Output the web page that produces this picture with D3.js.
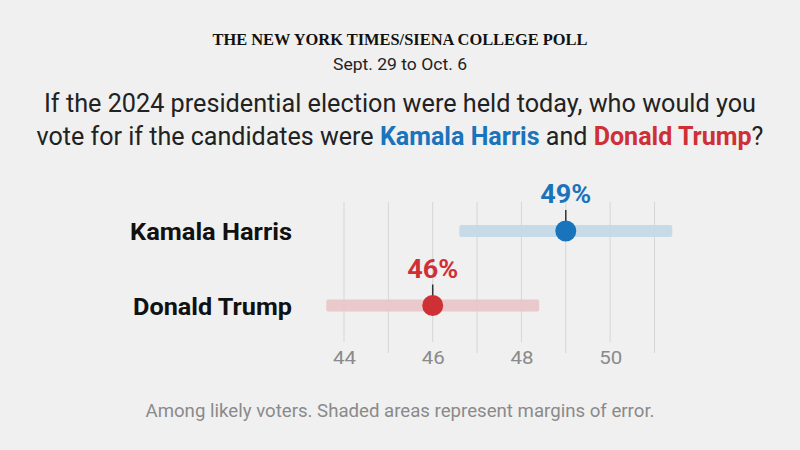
<!DOCTYPE html>
<html><head><meta charset="utf-8">
<script src="https://cdn.jsdelivr.net/npm/d3@7"></script>
<style>
html,body{margin:0;padding:0;background:#f0f0f0;}
svg{display:block;}
</style></head>
<body>
<svg id="chart" width="800" height="450"></svg>
<script>
const candidates = ["Kamala Harris", "Donald Trump"];
const values = [49, 46];
const lows = [46.6, 43.6];
const highs = [51.4, 48.4];
const tickValues = [44, 46, 48, 50];
const gridValues = [44, 45, 46, 47, 48, 49, 50, 51];
const colors = ["#1a74bb", "#cf3035"];
const bandColors = ["#c4d8e6", "#e8c6c8"];

const sans = "'Liberation Sans Narrow', 'Roboto', 'Liberation Sans', sans-serif";
const svg = d3.select("#chart");
svg.append("rect").attr("width", 800).attr("height", 450).attr("fill", "#f0f0f0");

// Header
svg.append("text").attr("x", 400).attr("y", 45).attr("text-anchor", "middle")
  .attr("font-family", "'Liberation Serif', 'DejaVu Serif', serif").attr("font-weight", "bold")
  .attr("font-size", 17).attr("fill", "#111")
  .attr("textLength", 375).attr("lengthAdjust", "spacingAndGlyphs")
  .text("THE NEW YORK TIMES/SIENA COLLEGE POLL");
svg.append("text").attr("x", 400).attr("y", 70).attr("text-anchor", "middle")
  .attr("font-family", sans).attr("font-size", 16.5).attr("fill", "#222")
  .attr("textLength", 134).attr("lengthAdjust", "spacingAndGlyphs")
  .text("Sept. 29 to Oct. 6");

svg.append("text").attr("x", 400).attr("y", 112).attr("text-anchor", "middle")
  .attr("font-family", sans).attr("font-size", 25).attr("fill", "#222")
  .attr("textLength", 712).attr("lengthAdjust", "spacingAndGlyphs")
  .text("If the 2024 presidential election were held today, who would you");
const q2 = svg.append("text").attr("x", 400).attr("y", 145).attr("text-anchor", "middle")
  .attr("font-family", sans).attr("font-size", 25).attr("fill", "#222")
  .attr("textLength", 727).attr("lengthAdjust", "spacingAndGlyphs");
q2.append("tspan").text("vote for if the candidates were ");
q2.append("tspan").attr("font-weight", "bold").attr("fill", colors[0]).text(candidates[0]);
q2.append("tspan").text(" and ");
q2.append("tspan").attr("font-weight", "bold").attr("fill", colors[1]).text(candidates[1]);
q2.append("tspan").text("?");

// Scales
const x = d3.scaleLinear().domain([44, 51]).range([344, 654.5]);
const y = d3.scalePoint().domain(candidates).range([231, 305.5]);

// Gridlines (labelled ones stop above their label)
svg.append("g").selectAll("line").data(gridValues).join("line")
  .attr("x1", d => x(d)).attr("x2", d => x(d))
  .attr("y1", 202).attr("y2", d => tickValues.includes(d) ? 342 : 353)
  .attr("stroke", "#d6d6d6").attr("stroke-width", 1);

// Axis labels
const axis = d3.axisBottom(x).tickValues(tickValues).tickSize(0).tickPadding(0).tickFormat(d3.format("d"));
const ag = svg.append("g").attr("transform", "translate(0,364)").call(axis);
ag.select(".domain").remove();
ag.selectAll("text").attr("font-family", sans).attr("font-size", 19).attr("fill", "#8a8a8a")
  .attr("dy", 0).attr("y", 0)
  .attr("textLength", 23).attr("lengthAdjust", "spacingAndGlyphs");

// Bands
svg.append("g").selectAll("rect").data(candidates).join("rect")
  .attr("x", (d, i) => x(lows[i])).attr("width", (d, i) => x(highs[i]) - x(lows[i]))
  .attr("y", d => y(d) - 6).attr("height", 12).attr("rx", 2)
  .attr("fill", (d, i) => bandColors[i]).attr("opacity", 0.95);

// Connector stems
svg.append("g").selectAll("line").data(candidates).join("line")
  .attr("x1", (d, i) => x(values[i])).attr("x2", (d, i) => x(values[i]))
  .attr("y1", d => y(d) - 21).attr("y2", d => y(d) - 9)
  .attr("stroke", "#333").attr("stroke-width", 1.5);

// Dots
svg.append("g").selectAll("circle").data(candidates).join("circle")
  .attr("cx", (d, i) => x(values[i])).attr("cy", d => y(d)).attr("r", 10.5)
  .attr("fill", (d, i) => colors[i]);

// Value labels
svg.append("g").selectAll("text").data(candidates).join("text")
  .attr("x", (d, i) => x(values[i])).attr("y", d => y(d) - 28)
  .attr("text-anchor", "middle").attr("font-family", sans).attr("font-weight", "bold")
  .attr("font-size", 25).attr("fill", (d, i) => colors[i])
  .attr("textLength", 51).attr("lengthAdjust", "spacingAndGlyphs")
  .text((d, i) => values[i] + "%");

// Candidate names
svg.append("g").selectAll("text").data(candidates).join("text")
  .attr("x", 292).attr("y", d => y(d) + 9)
  .attr("text-anchor", "end").attr("font-family", sans).attr("font-weight", "bold")
  .attr("font-size", 23.5).attr("fill", "#111")
  .attr("textLength", (d, i) => i === 0 ? 162 : 159).attr("lengthAdjust", "spacingAndGlyphs")
  .text(d => d);

// Footer
svg.append("text").attr("x", 400).attr("y", 417).attr("text-anchor", "middle")
  .attr("font-family", sans).attr("font-size", 18).attr("fill", "#8a8a8a")
  .attr("textLength", 509).attr("lengthAdjust", "spacingAndGlyphs")
  .text("Among likely voters. Shaded areas represent margins of error.");
</script>
</body></html>
